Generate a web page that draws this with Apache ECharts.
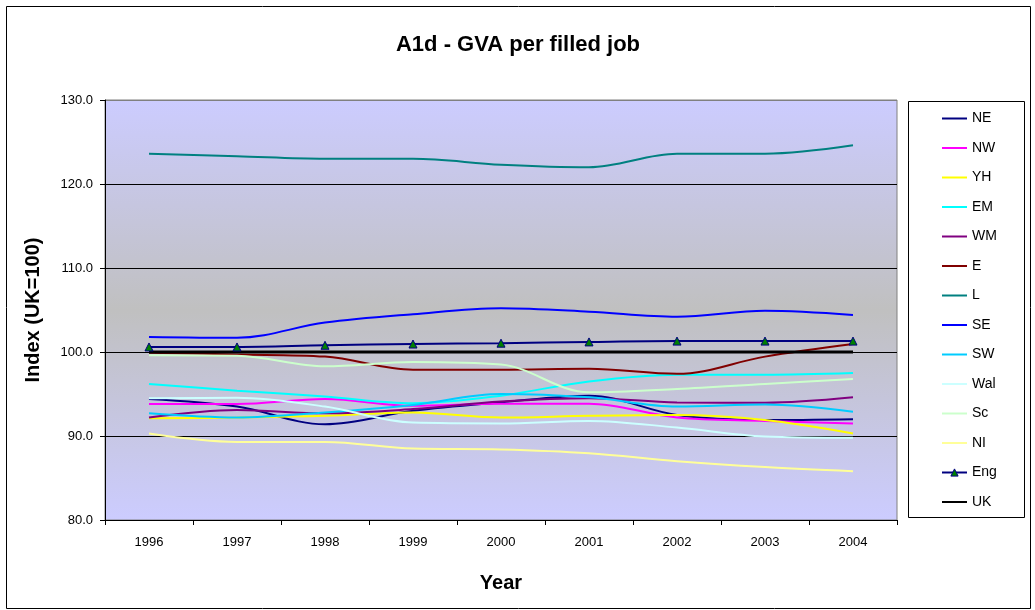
<!DOCTYPE html>
<html>
<head>
<meta charset="utf-8">
<script src="https://cdn.jsdelivr.net/npm/echarts@6/dist/echarts.min.js"></script>
<style>html,body{margin:0;padding:0;background:#fff;}#c{width:1035px;height:610px;}</style>
</head>
<body>
<div id="c"></div>
<script>
var years = ['1996','1997','1998','1999','2000','2001','2002','2003','2004'];
var yTicks = [80, 90, 100, 110, 120, 130];
var NE  = [94.4, 93.5, 91.4, 93.0, 94.0, 94.8, 92.5, 91.9, 92.0];
var NW  = [93.8, 93.8, 94.4, 93.6, 93.85, 93.85, 92.2, 91.8, 91.5];
var YH  = [92.1, 92.2, 92.4, 92.8, 92.2, 92.4, 92.5, 91.9, 90.3];
var EM  = [96.2, 95.4, 94.7, 93.9, 94.8, 96.5, 97.3, 97.3, 97.5];
var WM  = [92.2, 93.1, 92.7, 93.2, 94.1, 94.5, 94.0, 93.95, 94.6];
var E   = [99.9, 99.7, 99.45, 97.9, 97.9, 98.0, 97.4, 99.45, 100.95];
var L   = [123.6, 123.3, 123.0, 123.0, 122.3, 122.0, 123.6, 123.6, 124.6];
var SE  = [101.8, 101.7, 103.5, 104.5, 105.2, 104.8, 104.2, 104.9, 104.4];
var SW  = [92.7, 92.2, 92.8, 93.7, 95.0, 94.6, 93.5, 93.75, 92.9];
var Wal = [94.5, 94.55, 93.5, 91.6, 91.5, 91.8, 91.0, 89.95, 89.8];
var Sc  = [99.6, 99.55, 98.3, 98.8, 98.5, 95.2, 95.6, 96.2, 96.8];
var NI  = [90.3, 89.3, 89.3, 88.5, 88.4, 87.95, 87.0, 86.3, 85.8];
var Eng = [100.6, 100.6, 100.8, 100.95, 101.05, 101.2, 101.3, 101.3, 101.3];
var UK  = [100, 100, 100, 100, 100, 100, 100, 100, 100];

var seriesDefs = [
  ['NE', NE, '#000080'], ['NW', NW, '#FF00FF'], ['YH', YH, '#FFFF00'],
  ['EM', EM, '#00FFFF'], ['WM', WM, '#800080'], ['E', E, '#800000'],
  ['L', L, '#008080'], ['SE', SE, '#0000FF'], ['SW', SW, '#00CCFF'],
  ['Wal', Wal, '#CCFFFF'], ['Sc', Sc, '#CCFFCC'], ['NI', NI, '#FFFF99'],
  ['Eng', Eng, '#000080'], ['UK', UK, '#000000']
];
var FONT = 'Liberation Sans, Arial, sans-serif';
var series = seriesDefs.map(function (d) {
  var s = {
    name: d[0], type: 'line', data: d[1], smooth: 0.35,
    symbol: 'circle', showSymbol: false, lineStyle: { color: d[2], width: 2 },
    itemStyle: { color: d[2] }, z: 2
  };
  if (d[0] === 'Eng') {
    s.symbol = 'triangle'; s.symbolSize = 8; s.showSymbol = true;
    s.itemStyle = { color: '#008000', borderColor: '#000080', borderWidth: 1 };
    s.lineStyle = { color: '#000080', width: 2 };
  }
  if (d[0] === 'UK') { s.lineStyle = { color: '#000000', width: 3 }; s.smooth = false; }
  return s;
});
var legendData = seriesDefs.map(function (d) {
  if (d[0] === 'Eng') return { name: d[0], itemStyle: { color: '#008000', borderColor: '#000080', borderWidth: 1 } };
  return { name: d[0], itemStyle: { color: 'rgba(0,0,0,0)', borderWidth: 0, opacity: 0 } };
});

var chart = echarts.init(document.getElementById('c'), null, { renderer: 'canvas' });
chart.setOption({
  animation: false,
  backgroundColor: '#ffffff',
  title: {
    text: 'A1d - GVA per filled job', left: 513, top: 29, textAlign: 'center',
    textStyle: { fontFamily: FONT, fontSize: 22, fontWeight: 'bold', color: '#000' }
  },
  graphic: [
    { type: 'rect', left: 4, top: 4, shape: { width: 1024, height: 602 },
      style: { fill: 'none', stroke: '#000', lineWidth: 1 }, z: -1 },
    { type: 'rect', left: 908, top: 101, shape: { width: 116, height: 416 },
      style: { fill: '#fff', stroke: '#000', lineWidth: 1 }, z: 0 }
  ],
  legend: {
    orient: 'vertical', left: 936, top: 106.5, itemWidth: 25, itemHeight: 9,
    itemGap: 15.5, z: 5,
    textStyle: { fontFamily: FONT, fontSize: 14, color: '#000' },
    data: legendData
  },
  grid: {
    left: 105, right: 138, top: 100, bottom: 90, show: true,
    borderColor: '#808080', borderWidth: 1,
    backgroundColor: new echarts.graphic.LinearGradient(0, 0, 0, 1, [
      { offset: 0, color: '#CCCCFF' }, { offset: 0.5, color: '#C0C0C0' }, { offset: 1, color: '#CCCCFF' }
    ])
  },
  xAxis: {
    type: 'category', data: years, boundaryGap: true,
    name: 'Year', nameLocation: 'middle', nameGap: 53,
    nameTextStyle: { fontFamily: FONT, fontSize: 20, fontWeight: 'bold', color: '#000' },
    axisLine: { show: true, lineStyle: { color: '#000', width: 1 } },
    axisTick: { show: true, inside: false, length: 5, lineStyle: { color: '#000' } },
    axisLabel: { fontFamily: FONT, fontSize: 13, color: '#000', margin: 16 },
    splitLine: { show: false }
  },
  yAxis: {
    type: 'value', min: yTicks[0], max: yTicks[yTicks.length - 1], interval: 10,
    name: 'Index (UK=100)', nameLocation: 'middle', nameGap: 62, nameRotate: 90,
    nameTextStyle: { fontFamily: FONT, fontSize: 20, fontWeight: 'bold', color: '#000' },
    axisLine: { show: true, lineStyle: { color: '#000', width: 1 } },
    axisTick: { show: true, inside: false, length: 5, lineStyle: { color: '#000' } },
    axisLabel: { fontFamily: FONT, fontSize: 13, color: '#000', margin: 12,
      formatter: function (v) { return v.toFixed(1); } },
    splitLine: { show: true, lineStyle: { color: ['#000', '#000', '#000', '#000', '#000', '#808080'], width: 1 } }
  },
  series: series
});
</script>
</body>
</html>
